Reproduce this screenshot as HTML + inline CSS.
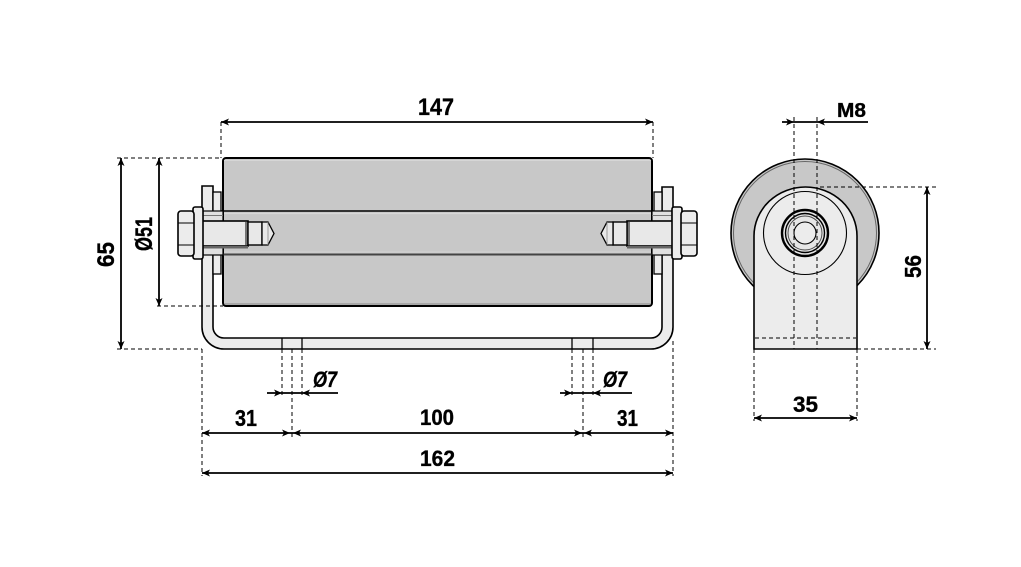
<!DOCTYPE html>
<html><head><meta charset="utf-8"><style>
html,body{margin:0;padding:0;background:#fff;}
svg{display:block;}
text{font-family:"Liberation Sans",sans-serif;font-weight:bold;fill:#000;stroke:#000;stroke-width:0.35;}
</style></head><body>
<svg width="1021" height="567" viewBox="0 0 1021 567" xmlns="http://www.w3.org/2000/svg">
<rect width="1021" height="567" fill="#fff"/>

<!-- ===== Front view ===== -->
<rect x="223" y="158" width="429" height="148" rx="3" fill="#c8c8c8" stroke="#000" stroke-width="2"/>
<line x1="224" y1="160.5" x2="651" y2="160.5" stroke="#d6d6d6" stroke-width="1"/>
<line x1="224" y1="304" x2="651" y2="304" stroke="#888" stroke-width="1"/>
<line x1="202" y1="211" x2="673" y2="211" stroke="#000" stroke-width="1.6"/>
<line x1="224" y1="213.5" x2="651" y2="213.5" stroke="#d8d8d8" stroke-width="1.2"/>
<line x1="202" y1="254.5" x2="673" y2="254.5" stroke="#444" stroke-width="2"/>
<line x1="224" y1="252" x2="651" y2="252" stroke="#d2d2d2" stroke-width="1"/>

<path d="M202,186 L213,186 L213,327 A11,11 0 0 0 224,338 L651,338 A11,11 0 0 0 662,327 L662,187 L673,187 L673,327 A22,22 0 0 1 651,349 L224,349 A22,22 0 0 1 202,327 Z" fill="#ececec" stroke="#000" stroke-width="1.6"/>
<line x1="282" y1="338" x2="282" y2="349" stroke="#000" stroke-width="1.3"/>
<line x1="302" y1="338" x2="302" y2="349" stroke="#000" stroke-width="1.3"/>
<line x1="572" y1="338" x2="572" y2="349" stroke="#000" stroke-width="1.3"/>
<line x1="593" y1="338" x2="593" y2="349" stroke="#000" stroke-width="1.3"/>

<g id="bolt">
  <rect x="213" y="192" width="8" height="82" fill="#ececec" stroke="#000" stroke-width="1.3"/>
  <rect x="203" y="211" width="20" height="44" fill="#e0e0e0" stroke="#000" stroke-width="1.2"/>
  <line x1="203" y1="215.5" x2="223" y2="215.5" stroke="#777" stroke-width="1"/>
  <rect x="202" y="221" width="46" height="25" fill="#e8e8e8" stroke="#000" stroke-width="1.6"/>
  <rect x="203" y="246" width="45" height="2.5" fill="#666"/>
  <rect x="248" y="222" width="14" height="23" fill="#e8e8e8" stroke="#000" stroke-width="1.4"/>
  <line x1="246" y1="222" x2="246" y2="245" stroke="#000" stroke-width="1"/>
  <polygon points="262,222 268,222 274,233.5 268,245 262,245" fill="#e8e8e8" stroke="#000" stroke-width="1.3"/>
  <line x1="268" y1="222" x2="268" y2="245" stroke="#888" stroke-width="0.8"/>
  <rect x="193" y="207" width="10" height="52" rx="2" fill="#ececec" stroke="#000" stroke-width="1.6"/>
  <rect x="178" y="211" width="16" height="45" rx="3" fill="#ececec" stroke="#000" stroke-width="1.6"/>
  <line x1="178" y1="223" x2="194" y2="223" stroke="#000" stroke-width="1"/>
  <line x1="178" y1="245" x2="194" y2="245" stroke="#000" stroke-width="1"/>
</g>
<use href="#bolt" transform="translate(875,0) scale(-1,1)"/>

<g stroke="#000" stroke-width="1" stroke-dasharray="4,3" fill="none">
  <line x1="221" y1="122" x2="221" y2="158"/>
  <line x1="653" y1="122" x2="653" y2="158"/>
  <line x1="117" y1="158" x2="221" y2="158"/>
  <line x1="117" y1="349" x2="202" y2="349"/>
  <line x1="157" y1="306" x2="223" y2="306"/>
  <line x1="202" y1="349" x2="202" y2="476"/>
  <line x1="673" y1="341" x2="673" y2="476"/>
  <line x1="282" y1="349" x2="282" y2="395"/>
  <line x1="302" y1="349" x2="302" y2="395"/>
  <line x1="292" y1="349" x2="292" y2="437"/>
  <line x1="572" y1="349" x2="572" y2="395"/>
  <line x1="593" y1="349" x2="593" y2="395"/>
  <line x1="583" y1="349" x2="583" y2="437"/>
</g>

<g stroke="#000" stroke-width="1.8">
  <line x1="221" y1="122" x2="653" y2="122"/>
  <line x1="121" y1="158" x2="121" y2="349"/>
  <line x1="159" y1="158" x2="159" y2="306"/>
  <line x1="267" y1="393" x2="338" y2="393"/>
  <line x1="560" y1="393" x2="632" y2="393"/>
  <line x1="202" y1="433" x2="673" y2="433"/>
  <line x1="202" y1="473" x2="673" y2="473"/>
</g>
<g fill="#000">
  <polygon points="221,122 229,118.5 227,122 229,125.5"/>
  <polygon points="653,122 645,118.5 647,122 645,125.5"/>
  <polygon points="121,158 117.5,166 121,164 124.5,166"/>
  <polygon points="121,349 117.5,341 121,343 124.5,341"/>
  <polygon points="159,158 155.5,166 159,164 162.5,166"/>
  <polygon points="159,306 155.5,298 159,300 162.5,298"/>
  <polygon points="282,393 274,389.5 276,393 274,396.5"/>
  <polygon points="302,393 310,389.5 308,393 310,396.5"/>
  <polygon points="572,393 564,389.5 566,393 564,396.5"/>
  <polygon points="593,393 601,389.5 599,393 601,396.5"/>
  <polygon points="202,433 210,429.5 208,433 210,436.5"/>
  <polygon points="290,433 282,429.5 284,433 282,436.5"/>
  <polygon points="293,433 301,429.5 299,433 301,436.5"/>
  <polygon points="582,433 574,429.5 576,433 574,436.5"/>
  <polygon points="584,433 592,429.5 590,433 592,436.5"/>
  <polygon points="673,433 665,429.5 667,433 665,436.5"/>
  <polygon points="202,473 210,469.5 208,473 210,476.5"/>
  <polygon points="673,473 665,469.5 667,473 665,476.5"/>
</g>

<!-- ===== Side view ===== -->
<circle cx="805" cy="233" r="74" fill="#c8c8c8" stroke="#000" stroke-width="1.6"/>
<circle cx="805" cy="233" r="71.5" fill="none" stroke="#666" stroke-width="1"/>
<path d="M754,349 L754,236 A51.5,49 0 0 1 857,236 L857,349 Z" fill="#ececec" stroke="#000" stroke-width="1.6"/>
<circle cx="805" cy="233" r="41.5" fill="none" stroke="#000" stroke-width="1.1"/>
<circle cx="805" cy="233" r="23" fill="#e6e6e6" stroke="#000" stroke-width="2.4"/>
<circle cx="805" cy="233" r="19.5" fill="none" stroke="#000" stroke-width="1.4"/>
<circle cx="805" cy="233" r="17" fill="none" stroke="#444" stroke-width="0.9"/>
<circle cx="805" cy="233" r="11" fill="#ececec" stroke="#000" stroke-width="1.1"/>

<g stroke="#000" stroke-width="1" stroke-dasharray="4,3" fill="none">
  <line x1="794" y1="117" x2="794" y2="349"/>
  <line x1="817" y1="117" x2="817" y2="349"/>
  <line x1="755" y1="338" x2="856" y2="338"/>
  <line x1="820" y1="187" x2="936" y2="187"/>
  <line x1="857" y1="349" x2="936" y2="349"/>
  <line x1="754" y1="349" x2="754" y2="421"/>
  <line x1="857" y1="349" x2="857" y2="421"/>
</g>
<g stroke="#000" stroke-width="1.8">
  <line x1="782" y1="122" x2="868" y2="122"/>
  <line x1="927" y1="187" x2="927" y2="349"/>
  <line x1="754" y1="418" x2="857" y2="418"/>
</g>
<g fill="#000">
  <polygon points="794,122 786,118.5 788,122 786,125.5"/>
  <polygon points="817,122 825,118.5 823,122 825,125.5"/>
  <polygon points="927,187 923.5,195 927,193 930.5,195"/>
  <polygon points="927,349 923.5,341 927,343 930.5,341"/>
  <polygon points="754,418 762,414.5 760,418 762,421.5"/>
  <polygon points="857,418 849,414.5 851,418 849,421.5"/>
</g>

<!-- ===== Labels ===== -->
<text x="418" y="115" font-size="24" textLength="36" lengthAdjust="spacingAndGlyphs">147</text>
<text x="420" y="425" font-size="22" textLength="34" lengthAdjust="spacingAndGlyphs">100</text>
<text x="420" y="466" font-size="22" textLength="35" lengthAdjust="spacingAndGlyphs">162</text>
<text x="235" y="426" font-size="23" textLength="22" lengthAdjust="spacingAndGlyphs">31</text>
<text x="617" y="426" font-size="23" textLength="21" lengthAdjust="spacingAndGlyphs">31</text>
<text x="313" y="387" font-size="22" font-style="italic" textLength="24" lengthAdjust="spacingAndGlyphs">Ø7</text>
<text x="603" y="387" font-size="22" font-style="italic" textLength="24" lengthAdjust="spacingAndGlyphs">Ø7</text>
<text x="793" y="412" font-size="22" textLength="25" lengthAdjust="spacingAndGlyphs">35</text>
<text x="837" y="117" font-size="20" textLength="29" lengthAdjust="spacingAndGlyphs">M8</text>
<text transform="translate(114,254.5) rotate(-90)" text-anchor="middle" font-size="24" textLength="25" lengthAdjust="spacingAndGlyphs">65</text>
<text transform="translate(152,234) rotate(-90)" text-anchor="middle" font-size="24" textLength="34" lengthAdjust="spacingAndGlyphs">Ø51</text>
<text transform="translate(921,266.5) rotate(-90)" text-anchor="middle" font-size="23" textLength="23" lengthAdjust="spacingAndGlyphs">56</text>
</svg>
</body></html>
